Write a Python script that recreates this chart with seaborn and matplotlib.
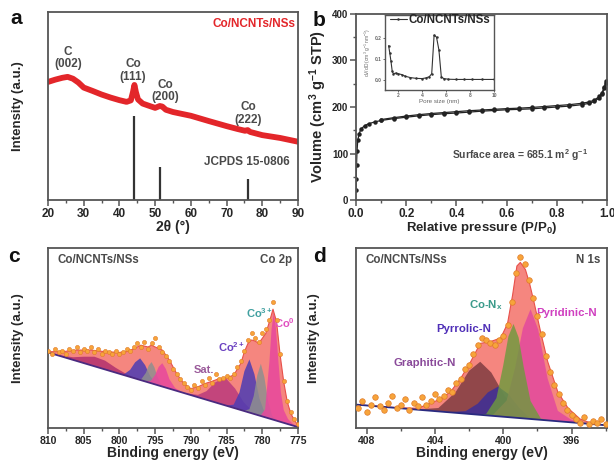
import numpy as np
import matplotlib
matplotlib.use("Agg")
import matplotlib.pyplot as plt
from matplotlib.ticker import MultipleLocator
import seaborn as sns

# style
sns.set_style("ticks")
plt.rcParams['font.family'] = ['Liberation Sans', 'DejaVu Sans']
plt.rcParams['font.weight'] = 'bold'
plt.rcParams['axes.labelweight'] = 'bold'
plt.rcParams['mathtext.fontset'] = 'custom'
plt.rcParams['mathtext.rm'] = 'Liberation Sans:bold'
plt.rcParams['mathtext.it'] = 'Liberation Sans:bold'
plt.rcParams['mathtext.bf'] = 'Liberation Sans:bold'
plt.rcParams['mathtext.default'] = 'regular'

# ---- data ----
# a. XRD
xrd_two_theta = [20, 22, 24, 25.5, 27, 28.5, 30, 32.5, 35, 37.5,
                 40, 42, 43.2, 43.8, 44.2, 44.6, 45.2, 46.5, 48, 50,
                 51.3, 52, 53, 55, 57.5, 60, 65, 70, 73, 75.2,
                 75.9, 76.6, 78, 80, 85, 90]
xrd_intensity = [0.628, 0.64, 0.65, 0.655, 0.645, 0.625, 0.598, 0.58, 0.561, 0.545,
                 0.531, 0.522, 0.53, 0.575, 0.612, 0.575, 0.535, 0.513, 0.503, 0.49,
                 0.50, 0.497, 0.48, 0.468, 0.458, 0.448, 0.42, 0.393, 0.378, 0.368,
                 0.372, 0.362, 0.355, 0.345, 0.33, 0.31]
jcpds_pos = [44.2, 51.5, 75.9]
jcpds_int = [0.448, 0.177, 0.112]
peak_labels = ["C\n(002)", "Co\n(111)", "Co\n(200)", "Co\n(222)"]

# b. N2 isotherm
iso_p_ads = [0.0005, 0.001, 0.002, 0.004, 0.007, 0.012, 0.02, 0.035, 0.05, 0.075,
             0.1, 0.15, 0.2, 0.25, 0.3, 0.35, 0.4, 0.45, 0.5, 0.55,
             0.6, 0.65, 0.7, 0.75, 0.8, 0.85, 0.9, 0.93, 0.95, 0.97,
             0.98, 0.99, 0.995]
iso_v_ads = [22, 45, 75, 105, 128, 142, 153, 160, 164, 168,
             171, 175, 178, 181, 183.5, 185.5, 187, 189, 191, 192.5,
             194, 195, 196, 198, 200, 202, 205, 208, 212, 220,
             228, 240, 252]
iso_p_des = [0.995, 0.99, 0.98, 0.97, 0.95, 0.93, 0.9, 0.85, 0.8, 0.75,
             0.7, 0.65, 0.6, 0.55, 0.5, 0.45, 0.4, 0.35, 0.3, 0.25,
             0.2, 0.15, 0.1]
iso_v_des = [255, 243, 231, 223, 215, 211, 208, 205, 203, 201,
             199, 197.5, 196.5, 195, 193.5, 192, 190, 188, 186, 183.5,
             180.5, 177, 173]
pore_size = [1.2, 1.3, 1.4, 1.5, 1.6, 1.8, 2.0, 2.3, 2.6, 3.0,
             3.5, 4.0, 4.3, 4.6, 4.8, 5.0, 5.2, 5.4, 5.6, 5.8,
             6.2, 6.8, 7.5, 8.2, 9.0, 10.0]
pore_dvdd = [0.165, 0.13, 0.09, 0.045, 0.032, 0.035, 0.032, 0.028, 0.02, 0.014,
             0.01, 0.009, 0.012, 0.018, 0.032, 0.215, 0.205, 0.145, 0.018, 0.009,
             0.006, 0.005, 0.005, 0.005, 0.005, 0.005]

# c. Co 2p XPS
co_bg_x = [810, 775]
co_bg_y = [0.42, 0.005]
co_env_x = [810, 808, 806, 804, 802, 800, 799, 798, 797, 796,
            795.5, 795, 794, 793, 792, 791, 790, 789, 788, 787,
            786, 785, 784, 783, 782.5, 782, 781.5, 781, 780.5, 780,
            779.5, 779, 778.5, 778, 777.5, 777, 776.5, 776, 775.5, 775]
co_env_y = [0.424, 0.424, 0.433, 0.433, 0.424, 0.42, 0.424, 0.44, 0.46, 0.45,
            0.46, 0.45, 0.433, 0.377, 0.303, 0.247, 0.219, 0.229, 0.247, 0.26,
            0.275, 0.279, 0.294, 0.359, 0.424, 0.47, 0.489, 0.483, 0.47, 0.498,
            0.526, 0.59, 0.66, 0.59, 0.405, 0.257, 0.145, 0.08, 0.043, 0.015]
co_raw_y = [0.43, 0.41, 0.44, 0.42, 0.43, 0.41, 0.44, 0.43, 0.45, 0.42,
            0.44, 0.43, 0.45, 0.42, 0.44, 0.41, 0.43, 0.42, 0.41, 0.43,
            0.41, 0.42, 0.44, 0.43, 0.45, 0.47, 0.45, 0.48, 0.44, 0.47,
            0.50, 0.45, 0.42, 0.40, 0.37, 0.33, 0.30, 0.27, 0.25, 0.23,
            0.21, 0.24, 0.22, 0.26, 0.24, 0.28, 0.25, 0.30, 0.27, 0.28,
            0.29, 0.28, 0.30, 0.34, 0.37, 0.43, 0.49, 0.53, 0.50, 0.48,
            0.53, 0.55, 0.60, 0.70, 0.60, 0.41, 0.26, 0.15, 0.09, 0.05,
            0.02]
# fitted components: x then y (first/last points sit on the background)
co_sat2_x = [809, 806.5, 805, 803.5, 802, 800.5, 799, 797]
co_sat2_y = [0.408, 0.393, 0.396, 0.396, 0.374, 0.334, 0.299, 0.266]
co_2p12_b_x = [800.3, 799.3, 798.5, 797.8, 797.1, 796.4, 795.7, 794.9, 793.9]
co_2p12_b_y = [0.305, 0.300, 0.323, 0.365, 0.387, 0.349, 0.289, 0.248, 0.229]
co_2p12_g_x = [797.6, 796.9, 796.3, 795.9, 795.5, 795.1, 794.7, 794.1, 793.4]
co_2p12_g_y = [0.273, 0.273, 0.306, 0.347, 0.366, 0.337, 0.287, 0.240, 0.223]
co_2p12_p_x = [796.6, 795.6, 795.0, 794.5, 794.0, 793.5, 793.0, 792.2, 791.0]
co_2p12_p_y = [0.261, 0.262, 0.295, 0.340, 0.360, 0.328, 0.271, 0.222, 0.195]
co_sat_x = [791.0, 789.0, 787.8, 786.6, 785.2, 783.8, 782.6, 781.4, 779.4]
co_sat_y = [0.195, 0.184, 0.205, 0.253, 0.281, 0.219, 0.143, 0.094, 0.057]
co2_x = [785.0, 784.0, 783.2, 782.5, 781.8, 781.1, 780.4, 779.6, 778.6]
co2_y = [0.124, 0.130, 0.197, 0.316, 0.381, 0.299, 0.164, 0.078, 0.048]
co3_x = [782.6, 781.8, 781.2, 780.7, 780.2, 779.7, 779.2, 778.6, 777.8]
co3_y = [0.095, 0.104, 0.177, 0.293, 0.357, 0.281, 0.153, 0.066, 0.038]
co0_x = [781.0, 780.2, 779.6, 779.0, 778.7, 778.4, 778.1, 777.8, 777.4, 777.0, 776.4, 775.8, 775.0]
co0_y = [0.076, 0.070, 0.105, 0.37, 0.55, 0.64, 0.56, 0.40, 0.20, 0.10, 0.05, 0.025, 0.005]

# d. N 1s XPS
n_bg_x = [408.63, 393.92]
n_bg_y = [0.13, 0.015]
n_env_x = [408.63, 407, 406, 405, 404.3, 403.7, 403.1, 402.5, 401.9, 401.35,
           400.75, 400.15, 399.75, 399.45, 399.2, 399.0, 398.7, 398.45, 398.2, 397.8,
           397.4, 396.8, 396.2, 395.5, 394.8, 393.92]
n_env_y = [0.13, 0.118, 0.112, 0.11, 0.136, 0.16, 0.20, 0.275, 0.37, 0.47,
           0.48, 0.50, 0.58, 0.74, 0.90, 0.92, 0.88, 0.80, 0.70, 0.53,
           0.37, 0.20, 0.11, 0.05, 0.025, 0.015]
n_raw_y = [0.11, 0.15, 0.09, 0.13, 0.17, 0.12, 0.10, 0.14, 0.18, 0.11,
           0.13, 0.16, 0.10, 0.14, 0.12, 0.17, 0.13, 0.15, 0.19, 0.16,
           0.18, 0.21, 0.20, 0.25, 0.27, 0.33, 0.35, 0.41, 0.46, 0.50,
           0.49, 0.47, 0.46, 0.49, 0.51, 0.57, 0.70, 0.86, 0.95, 0.91,
           0.82, 0.72, 0.62, 0.52, 0.40, 0.31, 0.24, 0.19, 0.14, 0.10,
           0.07, 0.05, 0.03, 0.06, 0.02, 0.04, 0.03, 0.05, 0.02]
graphitic_x = [405.0, 403.8, 402.8, 402.0, 401.35, 400.7, 399.9, 398.9, 397.7]
graphitic_y = [0.103, 0.111, 0.198, 0.318, 0.368, 0.308, 0.176, 0.073, 0.046]
pyrrolic_x = [403.2, 402.2, 401.5, 400.9, 400.3, 399.7, 399.1, 398.4, 397.4]
pyrrolic_y = [0.088, 0.094, 0.135, 0.198, 0.230, 0.189, 0.116, 0.052, 0.042]
pyridinic_x = [400.6, 399.8, 399.3, 398.85, 398.4, 397.95, 397.4, 396.8, 396.0, 395.2]
pyridinic_y = [0.073, 0.153, 0.337, 0.554, 0.660, 0.546, 0.275, 0.095, 0.045, 0.025]
conx_x = [401.6, 401.0, 400.4, 400.0, 399.7, 399.4, 399.1, 398.8, 398.4, 397.8, 397.2]
conx_y = [0.075, 0.078, 0.166, 0.348, 0.508, 0.578, 0.503, 0.338, 0.150, 0.053, 0.041]

co_raw_x = np.linspace(810, 775, len(co_raw_y))
n_raw_x = np.linspace(408.5, 394.0, len(n_raw_y))

# ---- figure ----
W, H = 614, 470
fig = plt.figure(figsize=(6.14, 4.70), dpi=100)


def box(l, t, r, b):
    return [l / W, 1 - b / H, (r - l) / W, (b - t) / H]


ax_a = fig.add_axes(box(48, 12, 298, 200))
ax_b = fig.add_axes(box(356, 14, 607, 200))
ax_c = fig.add_axes(box(48, 248, 298, 428))
ax_d = fig.add_axes(box(356, 248, 607, 428))

spine_col = '#555555'
text_col = '#4a4a4a'
for ax in [ax_a, ax_b, ax_c, ax_d]:
    for s in ax.spines.values():
        s.set_visible(True)
        s.set_color(spine_col)
        s.set_linewidth(1.3)
    ax.tick_params(which='major', direction='out', length=4, width=1.1, color=spine_col,
                   labelsize=8.5, pad=1.5)
    ax.tick_params(which='minor', direction='out', length=2.2, width=1.0, color=spine_col)

# a
sns.lineplot(x=xrd_two_theta, y=xrd_intensity, ax=ax_a, color='#e3262a', lw=4.2)
ax_a.vlines(jcpds_pos, 0, jcpds_int, color='#333333', lw=1.6)
ax_a.set_xlim(20, 90)
ax_a.set_ylim(0, 1)
ax_a.set_yticks([])
ax_a.xaxis.set_major_locator(MultipleLocator(10))
ax_a.xaxis.set_minor_locator(MultipleLocator(5))
ax_a.set_xlabel('2θ (°)', fontsize=10, labelpad=0)
ax_a.set_ylabel('Intensity (a.u.)', fontsize=9.5, labelpad=17)
for lab, px, py in zip(peak_labels, [25.6, 43.8, 52.8, 76.1], [0.755, 0.69, 0.58, 0.46]):
    ax_a.text(px, py, lab, ha='center', va='center', fontsize=8.5, color=text_col,
              linespacing=1.05)
ax_a.text(75.7, 0.2, 'JCPDS 15-0806', ha='center', va='center', fontsize=8.5, color=text_col)
ax_a.text(89.2, 0.935, 'Co/NCNTs/NSs', ha='right', va='center', fontsize=8.5,
          color='#e3262a')

# b
sns.lineplot(x=iso_p_ads, y=iso_v_ads, ax=ax_b, color='#222222', lw=0.9, marker='o',
             markersize=3.2, markeredgewidth=0, sort=False)
sns.lineplot(x=iso_p_des, y=iso_v_des, ax=ax_b, color='#222222', lw=0.9, marker='o',
             markersize=3.2, markeredgewidth=0, sort=False)
ax_b.set_xlim(0, 1)
ax_b.set_ylim(0, 400)
ax_b.xaxis.set_major_locator(MultipleLocator(0.2))
ax_b.xaxis.set_minor_locator(MultipleLocator(0.1))
ax_b.yaxis.set_major_locator(MultipleLocator(100))
ax_b.yaxis.set_minor_locator(MultipleLocator(50))
ax_b.tick_params(axis='y', labelsize=7)
ax_b.xaxis.set_major_formatter(matplotlib.ticker.FormatStrFormatter('%.1f'))
ax_b.set_xlabel('Relative pressure (P/P$_0$)', fontsize=9.5, labelpad=0)
ax_b.set_ylabel('Volume (cm$^3$ g$^{-1}$ STP)', fontsize=10.5, labelpad=2)
ax_b.text(0.655, 97, 'Surface area = 685.1 m$^2$ g$^{-1}$', ha='center', va='center',
          fontsize=7.5, color=text_col)

ax_in = fig.add_axes(box(385, 15, 494, 90))
sns.lineplot(x=pore_size, y=pore_dvdd, ax=ax_in, color='#333333', lw=0.8, marker='o',
             markersize=1.8, markeredgewidth=0, label='Co/NCNTs/NSs')
ax_in.set_xlim(0.9, 10)
ax_in.set_ylim(-0.045, 0.31)
ax_in.set_xticks([2, 4, 6, 8, 10])
ax_in.set_yticks([0.0, 0.1, 0.2])
ax_in.yaxis.set_major_formatter(matplotlib.ticker.FormatStrFormatter('%.1f'))
for s in ax_in.spines.values():
    s.set_color(spine_col)
    s.set_linewidth(1.0)
ax_in.tick_params(direction='out', length=1.5, width=0.6, labelsize=3.5, pad=1,
                  color=spine_col, labelcolor='#666666')
ax_in.set_xlabel('Pore size (nm)', fontsize=4.5, labelpad=0.5, color='#666666',
                 fontweight='normal')
ax_in.set_ylabel('dV/dD (cm$^3$ g$^{-1}$ nm$^{-1}$)', fontsize=3.5, labelpad=1,
                 color='#666666', fontweight='normal')
ax_in.legend(loc='upper left', bbox_to_anchor=(0.0, 1.07), frameon=False, fontsize=8.3,
             handlelength=1.5, handletextpad=0.15, borderaxespad=0)

# c
ax_c.fill(co_env_x + co_bg_x[::-1], co_env_y + co_bg_y[::-1], color='#f5867f', lw=0)
comps_c = [(co_sat2_x, co_sat2_y, '#b2306e'),
           (co_2p12_b_x, co_2p12_b_y, '#4c3cb4'),
           (co_2p12_g_x, co_2p12_g_y, '#8f8f8f'),
           (co_2p12_p_x, co_2p12_p_y, '#e8479d'),
           (co_sat_x, co_sat_y, '#bb3a7c'),
           (co2_x, co2_y, '#4c3cb4'),
           (co3_x, co3_y, '#8f8f8f'),
           (co0_x, co0_y, '#e8479d')]
for cx, cy, col in comps_c:
    ax_c.fill(cx, cy, color=col, alpha=0.85, lw=0)
sns.lineplot(x=co_env_x, y=co_env_y, ax=ax_c, color='#e8504a', lw=0.8, sort=False)
sns.lineplot(x=co_bg_x, y=co_bg_y, ax=ax_c, color='#4a2a80', lw=1.3)
sns.scatterplot(x=co_raw_x, y=co_raw_y, ax=ax_c, s=9, color='#f7a43a',
                edgecolor='#e07a2a', linewidth=0.4, zorder=5)
ax_c.set_xlim(810, 775)
ax_c.set_ylim(0, 1)
ax_c.set_yticks([])
ax_c.xaxis.set_major_locator(MultipleLocator(5))
ax_c.xaxis.set_minor_locator(MultipleLocator(2.5))
ax_c.tick_params(labelsize=7.5)
ax_c.set_xlabel('Binding energy (eV)', fontsize=10, labelpad=0)
ax_c.set_ylabel('Intensity (a.u.)', fontsize=9.5, labelpad=17)
ax_c.text(808.6, 0.935, 'Co/NCNTs/NSs', ha='left', va='center', fontsize=8.3, color=text_col)
ax_c.text(775.8, 0.935, 'Co 2p', ha='right', va='center', fontsize=8.3, color=text_col)
ax_c.text(788.2, 0.32, 'Sat.', ha='center', va='center', fontsize=8, color='#9a5a9a')
ax_c.text(784.3, 0.45, 'Co$^{2+}$', ha='center', va='center', fontsize=8, color='#6a40c0')
ax_c.text(780.4, 0.64, 'Co$^{3+}$', ha='center', va='center', fontsize=8, color='#40a0a0')
ax_c.text(776.9, 0.58, 'Co$^{0}$', ha='center', va='center', fontsize=8, color='#e050c0')

# d
ax_d.fill(n_env_x + n_bg_x[::-1], n_env_y + n_bg_y[::-1], color='#f5867f', lw=0)
comps_d = [(graphitic_x, graphitic_y, '#7b3a3f'),
           (pyrrolic_x, pyrrolic_y, '#3a2e9c'),
           (pyridinic_x, pyridinic_y, '#e2479e'),
           (conx_x, conx_y, '#6e9a3e')]
for cx, cy, col in comps_d:
    ax_d.fill(cx, cy, color=col, alpha=0.82, lw=0)
sns.lineplot(x=n_env_x, y=n_env_y, ax=ax_d, color='#e8504a', lw=0.8, sort=False)
sns.lineplot(x=n_bg_x, y=n_bg_y, ax=ax_d, color='#2a2a80', lw=1.3)
sns.scatterplot(x=n_raw_x, y=n_raw_y, ax=ax_d, s=16, color='#f7a43a',
                edgecolor='#e07a2a', linewidth=0.5, zorder=5)
ax_d.set_xlim(408.63, 393.92)
ax_d.set_ylim(0, 1)
ax_d.set_yticks([])
ax_d.xaxis.set_major_locator(MultipleLocator(4))
ax_d.xaxis.set_minor_locator(MultipleLocator(2))
ax_d.tick_params(labelsize=7.5)
ax_d.set_xlabel('Binding energy (eV)', fontsize=10, labelpad=0)
ax_d.set_ylabel('Intensity (a.u.)', fontsize=9.5, labelpad=26)
ax_d.text(408.08, 0.935, 'Co/NCNTs/NSs', ha='left', va='center', fontsize=8.3, color=text_col)
ax_d.text(394.3, 0.935, 'N 1s', ha='right', va='center', fontsize=8.3, color=text_col)
ax_d.text(404.6, 0.36, 'Graphitic-N', ha='center', va='center', fontsize=8.2, color='#8a4a9a')
ax_d.text(402.3, 0.55, 'Pyrrolic-N', ha='center', va='center', fontsize=8.2, color='#5030b8')
ax_d.text(401.05, 0.68, 'Co-N$_x$', ha='center', va='center', fontsize=8.2, color='#3a9a8a')
ax_d.text(396.3, 0.64, 'Pyridinic-N', ha='center', va='center', fontsize=8.2, color='#d040c0')

# panel letters
for lab, px, py in [('a', 16, 18), ('b', 319, 20), ('c', 14, 256), ('d', 319, 256)]:
    fig.text(px / W, 1 - py / H, lab, fontsize=15, fontweight='bold', ha='center',
             va='center', color='#111111')

fig.savefig('out.png', dpi=100)
